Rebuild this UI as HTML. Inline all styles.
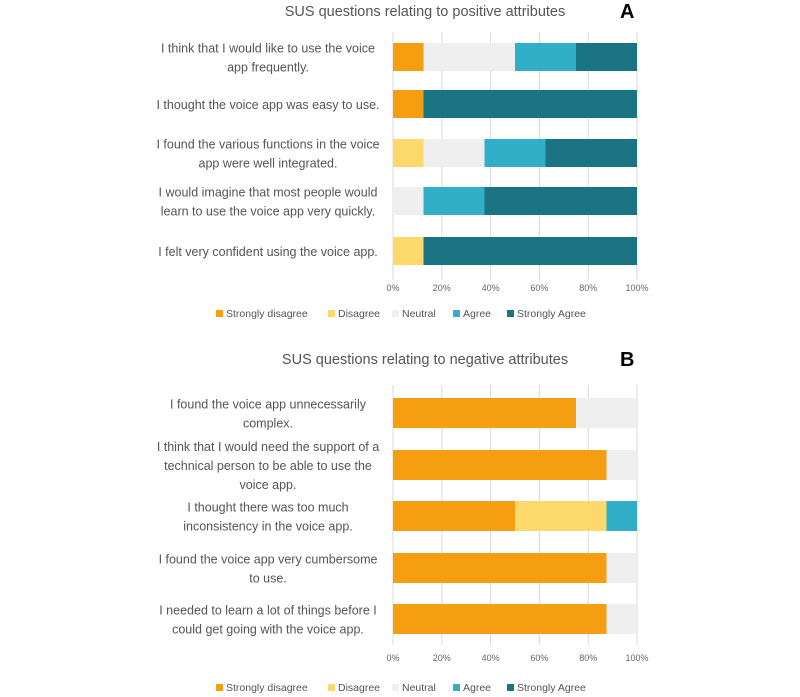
<!DOCTYPE html>
<html><head><meta charset="utf-8"><style>
body{margin:0;background:#fff;}
svg{display:block;font-family:"Liberation Sans",sans-serif;}
</style></head><body>
<svg id="s" width="800" height="697" viewBox="0 0 800 697"></svg>
<script>
const seriesNames=["Strongly disagree","Disagree","Neutral","Agree","Strongly Agree"];
const colors=["#f59e12","#fdd86a","#efefef","#31afc8","#1b7482"];
const ticks=[0,20,40,60,80,100];
const catsA=["I think that I would like to use the voice|app frequently.","I thought the voice app was easy to use.","I found the various functions in the voice|app were well integrated.","I would imagine that most people would|learn to use the voice app very quickly.","I felt very confident using the voice app."];
const sdA=[12.5,12.5,0,0,0];
const dA=[0,0,12.5,0,12.5];
const nA=[37.5,0,25,12.5,0];
const aA=[25,0,25,25,0];
const saA=[25,87.5,37.5,62.5,87.5];
const catsB=["I found the voice app unnecessarily|complex.","I think that I would need the support of a|technical person to be able to use the|voice app.","I thought there was too much|inconsistency in the voice app.","I found the voice app very cumbersome|to use.","I needed to learn a lot of things before I|could get going with the voice app."];
const sdB=[75,87.5,50,87.5,87.5];
const dB=[0,0,37.5,0,0];
const nB=[25,12.5,0,12.5,12.5];
const aB=[0,0,12.5,0,0];
const saB=[0,0,0,0,0];

const NS="http://www.w3.org/2000/svg";
const svg=document.getElementById('s');
function mk(t,a,p){const e=document.createElementNS(NS,t);for(const k in a)e.setAttribute(k,a[k]);(p||svg).appendChild(e);return e;}
const X0=393,X1=637;
const xs=v=>X0+(X1-X0)*v/100;

function chart(title,letter,top,cats,series,bars,bh,gridTop,gridBot,tickY,legY,id){
  const g=mk('g',{});
  
  
  let t=mk('text',{x:425,y:top,'text-anchor':'middle','font-size':14.5,fill:'#555'},g);t.textContent=title;
  
  t=mk('text',{x:620,y:top+2,'font-size':20,'font-weight':'bold',fill:'#000'},g);t.textContent=letter;
  
  ticks.forEach(v=>{
    const l=mk('line',{x1:xs(v),x2:xs(v),y1:gridTop,y2:gridBot,stroke:'#d9d9d9','stroke-width':1},g);
    
    const tt=mk('text',{x:xs(v),y:tickY,'text-anchor':'middle','font-size':9,fill:'#666'},g);tt.textContent=v+'%';
    
  });
  cats.forEach((c,i)=>{
    const yc=bars[i];
    let acc=0;
    series.forEach((s,k)=>{
      if(s[i]>0){
        const r=mk('rect',{x:xs(acc),y:yc-bh/2,width:xs(acc+s[i])-xs(acc),height:bh,fill:colors[k]},g);
        
      }
      acc+=s[i];
    });
    const lines=c.split('|');
    lines.forEach((ln,j)=>{
      const tx=mk('text',{x:268,y:yc+5+(j-(lines.length-1)/2)*19,'text-anchor':'middle','font-size':12.5,fill:'#555'},g);
      tx.textContent=ln;
      
    });
  });
  const lx=[216,328,392,453,507];
  seriesNames.forEach((n,k)=>{
    const r=mk('rect',{x:lx[k],y:legY-7,width:7,height:7,fill:colors[k]},g);
    
    const tx=mk('text',{x:lx[k]+10,y:legY,'font-size':10.5,fill:'#555'},g);tx.textContent=n;
    
  });
}
chart("SUS questions relating to positive attributes","A",16,catsA,[sdA,dA,nA,aA,saA],[57,104,153,201,251],28,32,280,291,317,'a');
chart("SUS questions relating to negative attributes","B",364,catsB,[sdB,dB,nB,aB,saB],[413,465,516,568,619],30,385,645,661,691,'b');
</script>
</body></html>
